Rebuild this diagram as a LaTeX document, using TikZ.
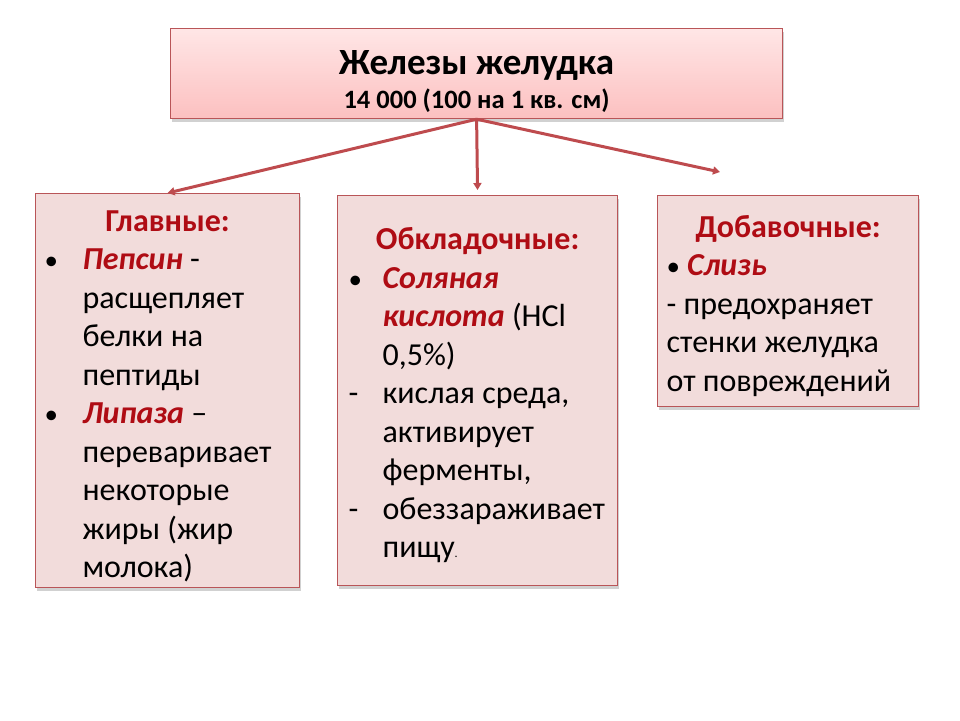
\documentclass[tikz,border=0pt]{standalone}
\usepackage{fontspec}
\setmainfont{Carlito}
\usepackage{tikz}
\usetikzlibrary{arrows.meta, positioning, shadows}
\definecolor{redhead}{RGB}{175, 12, 20}
\definecolor{boxfill}{RGB}{242, 220, 219}
\definecolor{boxedge}{RGB}{185, 85, 88}
\definecolor{linkred}{RGB}{190, 75, 78}
\definecolor{topfill1}{RGB}{255, 230, 230}
\definecolor{topfill2}{RGB}{252, 192, 192}

\newcommand{\hdr}[1]{\rule{0pt}{32pt}\textcolor{redhead}{\bfseries #1}}
\newcommand{\acc}[1]{\textcolor{redhead}{\bfseries\itshape #1}}
\newcommand{\mrk}[2][38pt]{\makebox[#1][l]{#2}}
\newcommand{\bul}{{\fontsize{27}{30}\selectfont •}}

\tikzset{
  boxshadow/.style={drop shadow={shadow xshift=1.5pt, shadow yshift=-3pt, opacity=0.3, fill=black!60}},
  sidebox/.style={draw=boxedge, fill=boxfill, line width=1.2pt, boxshadow, anchor=north west,
    align=flush left, inner ysep=0pt, font=\fontsize{32}{38.5}\selectfont},
  link/.style={draw=linkred, line width=3pt, -{Triangle[length=7pt, width=8pt]}}
}

\begin{document}
\begin{tikzpicture}[x=1pt, y=-1pt]
  \useasboundingbox (0,0) rectangle (960,720);

  \node[draw=boxedge, line width=1.2pt, top color=topfill1, bottom color=topfill2, boxshadow,
        anchor=north west, minimum width=612pt, minimum height=90pt, align=center, inner sep=0pt]
        (top) at (170,28) {
    \rule{0pt}{40pt}{\fontsize{37}{40}\selectfont\bfseries Железы желудка}\\[7pt]
    {\fontsize{26.5}{28}\selectfont\bfseries 14 000 (100 на 1 кв. см)}
  };

  \node[sidebox, inner xsep=9pt, text width=246pt, minimum width=264pt, minimum height=394pt]
        (glav) at (35,193) {
    \makebox[\hsize]{\hdr{Главные:}}\\
    \mrk{\bul}\acc{Пепсин} -\\
    \mrk{}расщепляет\\
    \mrk{}белки на\\
    \mrk{}пептиды\\
    \mrk{\bul}\acc{Липаза} –\\
    \mrk{}переваривает\\
    \mrk{}некоторые\\
    \mrk{}жиры (жир\\
    \mrk{}молока)
  };

  \node[sidebox, inner xsep=11pt, text width=258pt, minimum width=280pt, minimum height=390pt]
        (obkl) at (337,195) {
    \makebox[\hsize]{\hdr{Обкладочные:}}\\
    \mrk[34pt]{\bul}\acc{Соляная}\\
    \mrk[34pt]{}\acc{кислота} (HCl\\
    \mrk[34pt]{}0,5\%)\\
    \mrk[34pt]{-}кислая среда,\\
    \mrk[34pt]{}активирует\\
    \mrk[34pt]{}ферменты,\\
    \mrk[34pt]{-}обеззараживает\\
    \mrk[34pt]{}пищу{\fontsize{12}{12}\selectfont.}
  };

  \node[sidebox, inner xsep=9pt, text width=243pt, minimum width=261pt, minimum height=211pt]
        (dobav) at (657,195) {
    \makebox[\hsize]{\hdr{Добавочные:}}\\
    \bul\hspace{7pt}\acc{Слизь}\\
    - предохраняет\\
    стенки желудка\\
    от повреждений
  };

  \coordinate (dobend) at (720,172);

  \draw[link] (top.south) -- (glav.north);
  \draw[link, shorten >=5pt] (top.south) -- (obkl.north);
  \draw[link] (top.south) -- (dobend);
\end{tikzpicture}
\end{document}
